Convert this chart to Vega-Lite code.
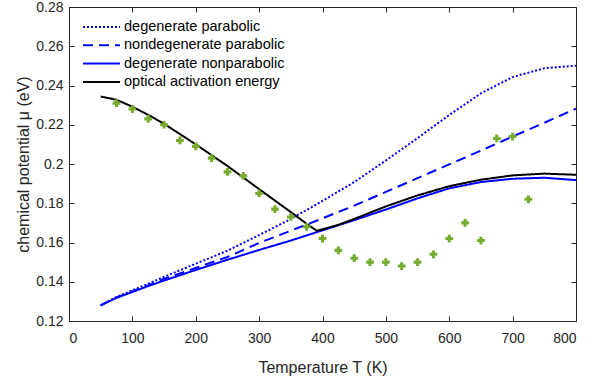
{
  "$schema": "https://vega.github.io/schema/vega-lite/v6.json",
  "width": 507,
  "height": 314,
  "autosize": {"type": "none"},
  "padding": {"left": 69, "top": 7, "right": 35, "bottom": 57},
  "config": {
    "font": "Liberation Sans",
    "view": {"stroke": "#262626", "strokeWidth": 1},
    "axis": {
      "domainColor": "#262626",
      "tickColor": "#262626",
      "labelColor": "#262626",
      "titleColor": "#262626",
      "labelFont": "Liberation Sans",
      "titleFont": "Liberation Sans",
      "labelFontSize": 14,
      "titleFontSize": 16,
      "titleFontWeight": "normal",
      "tickSize": -5,
      "grid": false
    }
  },
  "datasets": {
    "curves": [
      {"s": "degenerate parabolic", "T": 50, "mu": 0.1280},
      {"s": "degenerate parabolic", "T": 75, "mu": 0.1322},
      {"s": "degenerate parabolic", "T": 100, "mu": 0.1356},
      {"s": "degenerate parabolic", "T": 125, "mu": 0.1390},
      {"s": "degenerate parabolic", "T": 150, "mu": 0.1425},
      {"s": "degenerate parabolic", "T": 200, "mu": 0.1492},
      {"s": "degenerate parabolic", "T": 250, "mu": 0.1558},
      {"s": "degenerate parabolic", "T": 300, "mu": 0.1638},
      {"s": "degenerate parabolic", "T": 350, "mu": 0.1720},
      {"s": "degenerate parabolic", "T": 400, "mu": 0.1812},
      {"s": "degenerate parabolic", "T": 450, "mu": 0.1908},
      {"s": "degenerate parabolic", "T": 500, "mu": 0.2018},
      {"s": "degenerate parabolic", "T": 550, "mu": 0.2132},
      {"s": "degenerate parabolic", "T": 600, "mu": 0.2250},
      {"s": "degenerate parabolic", "T": 650, "mu": 0.2360},
      {"s": "degenerate parabolic", "T": 700, "mu": 0.2443},
      {"s": "degenerate parabolic", "T": 750, "mu": 0.2488},
      {"s": "degenerate parabolic", "T": 800, "mu": 0.2501},
      {"s": "nondegenerate parabolic", "T": 50, "mu": 0.1280},
      {"s": "nondegenerate parabolic", "T": 75, "mu": 0.1320},
      {"s": "nondegenerate parabolic", "T": 100, "mu": 0.1352},
      {"s": "nondegenerate parabolic", "T": 125, "mu": 0.1382},
      {"s": "nondegenerate parabolic", "T": 150, "mu": 0.1415},
      {"s": "nondegenerate parabolic", "T": 200, "mu": 0.1470},
      {"s": "nondegenerate parabolic", "T": 250, "mu": 0.1526},
      {"s": "nondegenerate parabolic", "T": 300, "mu": 0.1598},
      {"s": "nondegenerate parabolic", "T": 350, "mu": 0.1660},
      {"s": "nondegenerate parabolic", "T": 400, "mu": 0.1723},
      {"s": "nondegenerate parabolic", "T": 450, "mu": 0.1788},
      {"s": "nondegenerate parabolic", "T": 500, "mu": 0.1858},
      {"s": "nondegenerate parabolic", "T": 550, "mu": 0.1928},
      {"s": "nondegenerate parabolic", "T": 600, "mu": 0.1998},
      {"s": "nondegenerate parabolic", "T": 650, "mu": 0.2068},
      {"s": "nondegenerate parabolic", "T": 700, "mu": 0.2140},
      {"s": "nondegenerate parabolic", "T": 750, "mu": 0.2210},
      {"s": "nondegenerate parabolic", "T": 800, "mu": 0.2282},
      {"s": "degenerate nonparabolic", "T": 50, "mu": 0.1280},
      {"s": "degenerate nonparabolic", "T": 75, "mu": 0.1318},
      {"s": "degenerate nonparabolic", "T": 100, "mu": 0.1348},
      {"s": "degenerate nonparabolic", "T": 125, "mu": 0.1378},
      {"s": "degenerate nonparabolic", "T": 150, "mu": 0.1406},
      {"s": "degenerate nonparabolic", "T": 200, "mu": 0.1460},
      {"s": "degenerate nonparabolic", "T": 250, "mu": 0.1512},
      {"s": "degenerate nonparabolic", "T": 300, "mu": 0.1562},
      {"s": "degenerate nonparabolic", "T": 350, "mu": 0.1610},
      {"s": "degenerate nonparabolic", "T": 400, "mu": 0.1662},
      {"s": "degenerate nonparabolic", "T": 450, "mu": 0.1714},
      {"s": "degenerate nonparabolic", "T": 500, "mu": 0.1768},
      {"s": "degenerate nonparabolic", "T": 550, "mu": 0.1825},
      {"s": "degenerate nonparabolic", "T": 600, "mu": 0.1876},
      {"s": "degenerate nonparabolic", "T": 650, "mu": 0.1908},
      {"s": "degenerate nonparabolic", "T": 700, "mu": 0.1925},
      {"s": "degenerate nonparabolic", "T": 750, "mu": 0.1930},
      {"s": "degenerate nonparabolic", "T": 800, "mu": 0.1918},
      {"s": "optical activation energy", "T": 50, "mu": 0.2344},
      {"s": "optical activation energy", "T": 75, "mu": 0.2327},
      {"s": "optical activation energy", "T": 100, "mu": 0.2292},
      {"s": "optical activation energy", "T": 125, "mu": 0.2250},
      {"s": "optical activation energy", "T": 150, "mu": 0.2205},
      {"s": "optical activation energy", "T": 200, "mu": 0.2100},
      {"s": "optical activation energy", "T": 250, "mu": 0.1990},
      {"s": "optical activation energy", "T": 300, "mu": 0.1872},
      {"s": "optical activation energy", "T": 350, "mu": 0.1755},
      {"s": "optical activation energy", "T": 375, "mu": 0.1695},
      {"s": "optical activation energy", "T": 391, "mu": 0.1660},
      {"s": "optical activation energy", "T": 400, "mu": 0.1667},
      {"s": "optical activation energy", "T": 425, "mu": 0.1690},
      {"s": "optical activation energy", "T": 450, "mu": 0.1720},
      {"s": "optical activation energy", "T": 500, "mu": 0.1784},
      {"s": "optical activation energy", "T": 550, "mu": 0.1840},
      {"s": "optical activation energy", "T": 600, "mu": 0.1887},
      {"s": "optical activation energy", "T": 650, "mu": 0.1920},
      {"s": "optical activation energy", "T": 700, "mu": 0.1942},
      {"s": "optical activation energy", "T": 750, "mu": 0.1951},
      {"s": "optical activation energy", "T": 800, "mu": 0.1945}
    ],
    "pts": [
      {"T": 75, "mu": 0.231},
      {"T": 100, "mu": 0.228},
      {"T": 125, "mu": 0.223},
      {"T": 150, "mu": 0.220},
      {"T": 175, "mu": 0.212},
      {"T": 200, "mu": 0.209},
      {"T": 225, "mu": 0.203},
      {"T": 250, "mu": 0.196},
      {"T": 275, "mu": 0.194},
      {"T": 300, "mu": 0.185},
      {"T": 325, "mu": 0.177},
      {"T": 350, "mu": 0.173},
      {"T": 375, "mu": 0.168},
      {"T": 400, "mu": 0.162},
      {"T": 425, "mu": 0.156},
      {"T": 450, "mu": 0.152},
      {"T": 475, "mu": 0.150},
      {"T": 500, "mu": 0.150},
      {"T": 525, "mu": 0.148},
      {"T": 550, "mu": 0.150},
      {"T": 575, "mu": 0.154},
      {"T": 600, "mu": 0.162},
      {"T": 625, "mu": 0.170},
      {"T": 650, "mu": 0.161},
      {"T": 675, "mu": 0.213},
      {"T": 700, "mu": 0.214},
      {"T": 725, "mu": 0.182}
    ]
  },
  "layer": [
    {
      "data": {"name": "curves"},
      "mark": {"type": "line", "strokeWidth": 2, "strokeCap": "butt", "clip": true},
      "encoding": {
        "x": {
          "field": "T", "type": "quantitative",
          "scale": {"domain": [0, 800], "nice": false, "zero": false},
          "axis": {"values": [0, 100, 200, 300, 400, 500, 600, 700, 800], "title": "Temperature T (K)", "labelPadding": 15, "titlePadding": 14}
        },
        "y": {
          "field": "mu", "type": "quantitative",
          "scale": {"domain": [0.12, 0.28], "nice": false, "zero": false},
          "axis": {"values": [0.12, 0.14, 0.16, 0.18, 0.2, 0.22, 0.24, 0.26, 0.28], "format": ".2~f", "title": "chemical potential μ (eV)", "labelPadding": 11, "titlePadding": 4}
        },
        "color": {
          "field": "s", "type": "nominal",
          "scale": {
            "domain": ["degenerate parabolic", "nondegenerate parabolic", "degenerate nonparabolic", "optical activation energy"],
            "range": ["#0000ff", "#0000ff", "#0000ff", "#000000"]
          },
          "legend": {
            "title": null,
            "orient": "none",
            "legendX": 13,
            "legendY": 11,
            "symbolType": "stroke",
            "symbolSize": 1369,
            "symbolStrokeWidth": 2,
            "labelFontSize": 14.5,
            "labelColor": "#000000",
            "labelFont": "Liberation Sans",
            "labelOffset": 3,
            "labelLimit": 0,
            "clipHeight": 18,
            "rowPadding": 0.3
          }
        },
        "strokeDash": {
          "field": "s", "type": "nominal",
          "scale": {
            "domain": ["degenerate parabolic", "nondegenerate parabolic", "degenerate nonparabolic", "optical activation energy"],
            "range": [[2, 2], [10, 6], [1, 0], [1, 0]]
          }
        }
      }
    },
    {
      "data": {"name": "pts"},
      "mark": {"type": "point", "shape": "cross", "filled": true, "size": 60, "color": "#77ac30", "opacity": 1},
      "encoding": {
        "x": {
          "field": "T", "type": "quantitative",
          "scale": {"domain": [0, 800], "nice": false, "zero": false},
          "axis": {"orient": "top", "values": [0, 100, 200, 300, 400, 500, 600, 700, 800], "labels": false, "title": null}
        },
        "y": {
          "field": "mu", "type": "quantitative",
          "scale": {"domain": [0.12, 0.28], "nice": false, "zero": false},
          "axis": {"orient": "right", "values": [0.12, 0.14, 0.16, 0.18, 0.2, 0.22, 0.24, 0.26, 0.28], "labels": false, "title": null}
        }
      }
    }
  ],
  "resolve": {"axis": {"x": "independent", "y": "independent"}}
}
